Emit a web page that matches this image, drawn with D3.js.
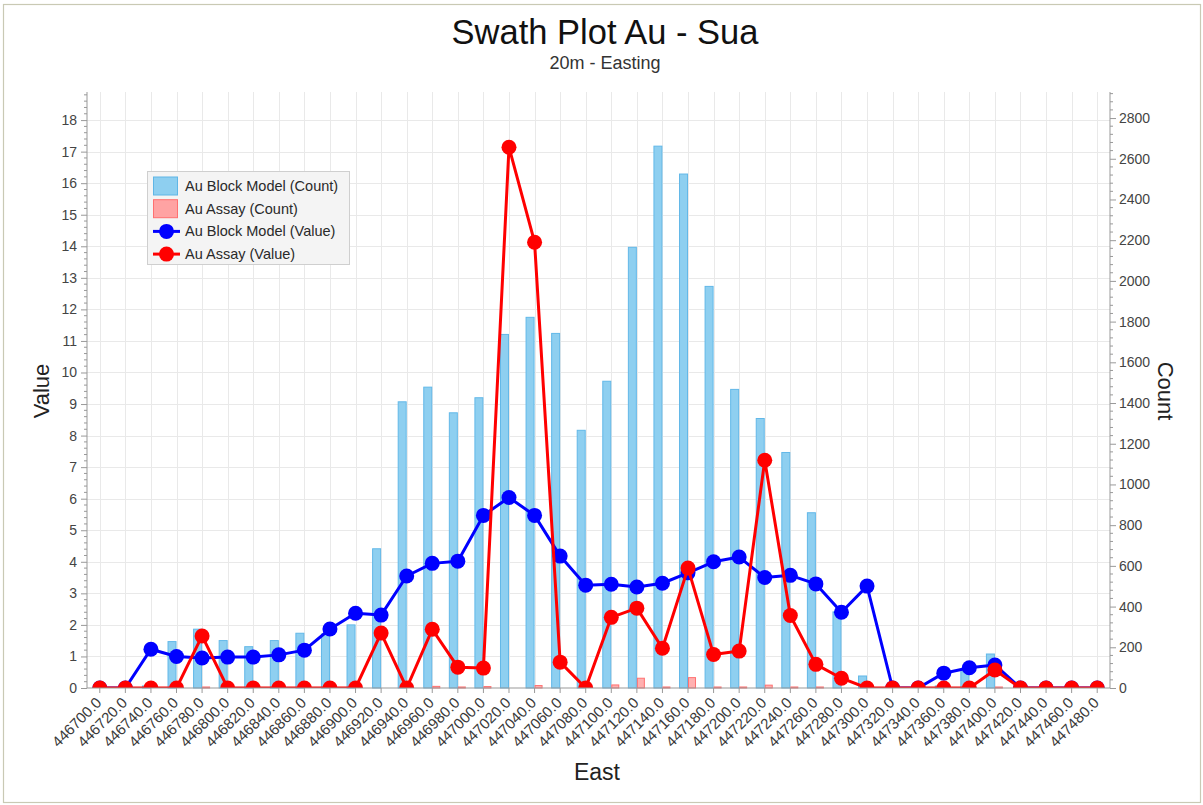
<!DOCTYPE html>
<html>
<head>
<meta charset="utf-8">
<script src="https://cdn.jsdelivr.net/npm/d3@7"></script>
<style>
  html, body { margin: 0; padding: 0; background: #fff; }
  svg { display: block; font-family: "Liberation Sans", Arial, sans-serif; }
</style>
</head>
<body>
<script>
// Swath plot: block model vs assay, binned by 20 m easting slices
const eastings = [446700, 446720, 446740, 446760, 446780, 446800, 446820, 446840, 446860, 446880,
                  446900, 446920, 446940, 446960, 446980, 447000, 447020, 447040, 447060, 447080,
                  447100, 447120, 447140, 447160, 447180, 447200, 447220, 447240, 447260, 447280,
                  447300, 447320, 447340, 447360, 447380, 447400, 447420, 447440, 447460, 447480];

// Counts (right axis)
const blockCount = [0, 0, 10, 228, 289, 233, 203, 233, 269, 265,
                    310, 684, 1406, 1478, 1352, 1426, 1737, 1821, 1742, 1266,
                    1507, 2165, 2662, 2525, 1973, 1467, 1324, 1157, 861, 374,
                    59, 0, 0, 10, 80, 167, 0, 0, 0, 0];
const assayCount = [0, 0, 0, 0, 5, 0, 0, 0, 0, 0,
                    0, 0, 0, 8, 5, 7, 0, 12, 0, 0,
                    15, 48, 5, 51, 5, 5, 14, 5, 5, 0,
                    0, 0, 0, 0, 0, 5, 0, 0, 0, 0];

// Mean grades (left axis)
const blockValue = [0, 0, 1.23, 1.0, 0.95, 0.98, 0.98, 1.05, 1.2, 1.87,
                    2.37, 2.31, 3.55, 3.95, 4.02, 5.47, 6.04, 5.47, 4.18, 3.26,
                    3.29, 3.2, 3.32, 3.65, 4.0, 4.15, 3.5, 3.57, 3.3, 2.4,
                    3.23, 0, 0, 0.47, 0.64, 0.73, 0, 0, 0, 0];
const assayValue = [0, 0, 0, 0, 1.65, 0, 0, 0, 0, 0,
                    0, 1.74, 0, 1.86, 0.66, 0.63, 17.14, 14.13, 0.82, 0,
                    2.24, 2.53, 1.26, 3.8, 1.06, 1.17, 7.22, 2.3, 0.75, 0.31,
                    0, 0, 0, 0, 0, 0.57, 0, 0, 0, 0];

const valueTicks = [0, 1, 2, 3, 4, 5, 6, 7, 8, 9, 10, 11, 12, 13, 14, 15, 16, 17, 18];
const countTicks = [0, 200, 400, 600, 800, 1000, 1200, 1400, 1600, 1800, 2000, 2200, 2400, 2600, 2800];

const legendItems = [
  { label: "Au Block Model (Count)", kind: "bar", fill: "#8ecff0", stroke: "#5fb6e6" },
  { label: "Au Assay (Count)", kind: "bar", fill: "#ffa3a3", stroke: "#ff7070" },
  { label: "Au Block Model (Value)", kind: "line", color: "#0000ff" },
  { label: "Au Assay (Value)", kind: "line", color: "#ff0000" }
];

const W = 1203, H = 805;
const plot = { left: 87, right: 1110, top: 92, bottom: 688 };

const svg = d3.select("body").append("svg").attr("width", W).attr("height", H);

svg.append("rect").attr("x", 0).attr("y", 0).attr("width", W).attr("height", H).attr("fill", "#fff");
svg.append("rect").attr("x", 3.5).attr("y", 4.5).attr("width", W - 6).attr("height", H - 7)
  .attr("fill", "none").attr("stroke", "#c9c9b4").attr("stroke-width", 1.2);

const x = d3.scaleBand().domain(eastings).range([plot.left, plot.right]).padding(0);
const cx = d => x(d) + x.bandwidth() / 2;
const yV = d3.scaleLinear().domain([0, 18.89]).range([plot.bottom, plot.top]);
const yC = d3.scaleLinear().domain([0, 2928]).range([plot.bottom, plot.top]);

// Grid
const grid = svg.append("g").attr("stroke", "#e9e9e9").attr("stroke-width", 1);
grid.selectAll(".h").data(valueTicks.filter(v => v > 0)).join("line")
  .attr("x1", plot.left).attr("x2", plot.right)
  .attr("y1", d => Math.round(yV(d)) + 0.5).attr("y2", d => Math.round(yV(d)) + 0.5);
grid.selectAll(".v").data(eastings).join("line")
  .attr("y1", plot.top).attr("y2", plot.bottom)
  .attr("x1", d => Math.round(cx(d)) + 0.5).attr("x2", d => Math.round(cx(d)) + 0.5);

// Count bars
const bars = svg.append("g");
bars.selectAll(".bb").data(eastings.map((e, i) => ({ e, c: blockCount[i] })).filter(d => d.c > 0)).join("rect")
  .attr("x", d => cx(d.e) - 8.5).attr("width", 8)
  .attr("y", d => yC(d.c)).attr("height", d => plot.bottom - yC(d.c))
  .attr("fill", "#8ecff0").attr("stroke", "#62b8e8").attr("stroke-width", 1);
bars.selectAll(".ab").data(eastings.map((e, i) => ({ e, c: assayCount[i] })).filter(d => d.c > 0)).join("rect")
  .attr("x", d => cx(d.e) + 0.5).attr("width", 7)
  .attr("y", d => yC(d.c)).attr("height", d => plot.bottom - yC(d.c))
  .attr("fill", "#ffb0b0").attr("stroke", "#ff7070").attr("stroke-width", 1);

// Value lines
svg.append("defs").append("clipPath").attr("id", "plotClip").append("rect")
  .attr("x", plot.left).attr("y", plot.top)
  .attr("width", plot.right - plot.left).attr("height", plot.bottom - plot.top);
const lines = svg.append("g").attr("clip-path", "url(#plotClip)");
const lineGen = d3.line().x(d => cx(d.e)).y(d => yV(d.v));
function drawSeries(values, color) {
  const pts = eastings.map((e, i) => ({ e, v: values[i] }));
  lines.append("path").datum(pts).attr("d", lineGen)
    .attr("fill", "none").attr("stroke", color).attr("stroke-width", 3).attr("stroke-linejoin", "round");
  lines.append("g").selectAll("circle").data(pts).join("circle")
    .attr("cx", d => cx(d.e)).attr("cy", d => yV(d.v)).attr("r", 7.5).attr("fill", color);
}
drawSeries(blockValue, "#0000ff");
drawSeries(assayValue, "#ff0000");

// Axes
const axisColor = "#999";
const tickText = "#444";

const leftAxis = svg.append("g").attr("transform", `translate(${plot.left},0)`)
  .call(d3.axisLeft(yV).tickValues(valueTicks).tickSize(6).tickPadding(4).tickFormat(d3.format("d")));
const rightAxis = svg.append("g").attr("transform", `translate(${plot.right},0)`)
  .call(d3.axisRight(yC).tickValues(countTicks).tickSize(6).tickPadding(3).tickFormat(d3.format("d")));
const bottomAxis = svg.append("g").attr("transform", `translate(0,${plot.bottom})`)
  .call(d3.axisBottom(x).tickSize(5).tickFormat(d => d.toFixed(1)));

[leftAxis, rightAxis, bottomAxis].forEach(a => {
  a.select(".domain").attr("stroke", axisColor);
  a.selectAll(".tick line").attr("stroke", axisColor);
  a.selectAll(".tick text").attr("fill", tickText).attr("font-size", 14);
});
leftAxis.select(".domain").attr("d", `M0,${plot.top}V${plot.bottom}`);
rightAxis.select(".domain").attr("d", `M0,${plot.top}V${plot.bottom}`);
bottomAxis.select(".domain").attr("d", `M${plot.left},0H${plot.right}`);

bottomAxis.selectAll(".tick text")
  .attr("font-size", 15)
  .attr("fill", "#3a3a3a")
  .attr("text-anchor", "end")
  .attr("y", 0).attr("x", 0).attr("dy", "0.35em")
  .attr("transform", "translate(-1,12) rotate(-45)");

// Minor ticks
const minorV = d3.range(0, 18.89, 0.2).filter(v => Math.abs(v - Math.round(v)) > 1e-6);
leftAxis.selectAll(".minor").data(minorV).join("line")
  .attr("x1", -3).attr("x2", 0).attr("y1", d => yV(d)).attr("y2", d => yV(d)).attr("stroke", axisColor);
const minorC = d3.range(0, 2928, 40).filter(v => v % 200 !== 0);
rightAxis.selectAll(".minor").data(minorC).join("line")
  .attr("x1", 0).attr("x2", 3).attr("y1", d => yC(d)).attr("y2", d => yC(d)).attr("stroke", axisColor);

// Titles
svg.append("text").attr("x", 605).attr("y", 44).attr("text-anchor", "middle")
  .attr("font-size", 34.5).attr("fill", "#111").text("Swath Plot Au - Sua");
svg.append("text").attr("x", 605).attr("y", 69).attr("text-anchor", "middle")
  .attr("font-size", 18).attr("fill", "#333").text("20m - Easting");
svg.append("text").attr("transform", "translate(49,391) rotate(-90)").attr("text-anchor", "middle")
  .attr("font-size", 22).attr("fill", "#222").text("Value");
svg.append("text").attr("transform", "translate(1158,391) rotate(90)").attr("text-anchor", "middle")
  .attr("font-size", 22).attr("fill", "#222").text("Count");
svg.append("text").attr("x", 597).attr("y", 780).attr("text-anchor", "middle")
  .attr("font-size", 23).attr("fill", "#222").text("East");

// Legend
const lg = svg.append("g");
lg.append("rect").attr("x", 147.5).attr("y", 171.5).attr("width", 202).attr("height", 93)
  .attr("fill", "#f4f4f4").attr("stroke", "#cfcfcf");
legendItems.forEach((it, i) => {
  const cy = 186 + i * 22.7;
  const g = lg.append("g");
  if (it.kind === "bar") {
    g.append("rect").attr("x", 153.5).attr("y", cy - 9).attr("width", 24).attr("height", 18)
      .attr("fill", it.fill).attr("stroke", it.stroke);
  } else {
    g.append("line").attr("x1", 153).attr("x2", 180).attr("y1", cy).attr("y2", cy)
      .attr("stroke", it.color).attr("stroke-width", 3);
    g.append("circle").attr("cx", 166.5).attr("cy", cy).attr("r", 7.5).attr("fill", it.color);
  }
  g.append("text").attr("x", 185).attr("y", cy).attr("dy", "0.35em")
    .attr("font-size", 14.5).attr("fill", "#2a2a2a").text(it.label);
});
</script>
</body>
</html>
